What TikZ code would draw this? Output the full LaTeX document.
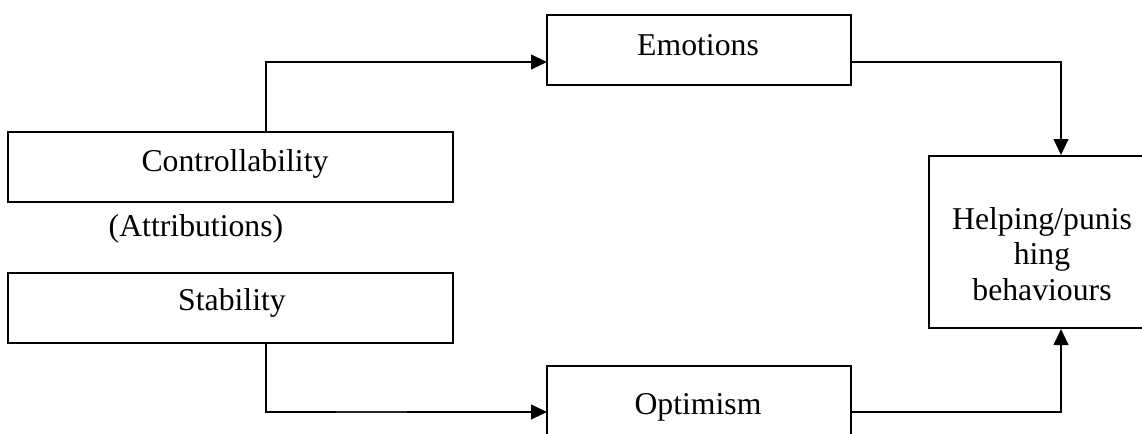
\documentclass[tikz,border=0pt]{standalone}
\usepackage{fontspec}
\setmainfont{Liberation Serif}
\usetikzlibrary{arrows.meta}
\begin{document}
\begin{tikzpicture}[x=0.75pt,y=-0.75pt,
  box/.style={draw, line width=1.5pt, inner sep=0pt, minimum width=#1},
  lbl/.style={anchor=base, inner sep=0pt, font=\fontsize{23.8}{26.6}\selectfont},
  conn/.style={line width=1.5pt},
  arr/.style={conn, -{Triangle[length=12pt,width=11pt]}}]
\useasboundingbox (0,0) rectangle (1142,433);
\clip (0,0) rectangle (1142,433);
% boxes
\node[box=304*0.75pt, minimum height=52.5pt] (emo) at (699,50) {};
\node[box=445*0.75pt, minimum height=52.5pt] (ctrl) at (230.5,167) {};
\node[box=445*0.75pt, minimum height=52.5pt] (stab) at (230.5,307.5) {};
\node[box=304*0.75pt, minimum height=52.5pt] (opt) at (699,401) {};
\node[box=226*0.75pt, minimum height=129pt] (help) at (1042,242) {};
% texts
\node[lbl] (emoT) at (698,55) {Emotions};
\node[lbl] (ctrlT) at (235,171.7) {Controllability};
\node[lbl] (attrT) at (196,236.7) {(Attributions)};
\node[lbl] (stabT) at (232,310.7) {Stability};
\node[lbl] (optT) at (698,414) {Optimism};
\node[lbl, align=center, anchor=base] (helpT) at (1042,300) {Helping/punis\\hing\\behaviours};
% coordinates
\coordinate (lx) at (266,0);
\coordinate (rx) at (1061,0);
\coordinate (ein) at (547,62);
\coordinate (eout) at (851,62);
\coordinate (oin) at (547,412);
\coordinate (oout) at (851,412);
\coordinate (segA) at (336,412);
\coordinate (segB) at (407,412);
% connectors
\draw[arr] (lx |- ctrl.north) |- (ein);
\draw[arr] (eout) -| (rx |- help.north);
\draw[arr] (lx |- stab.south) |- (oin);
\draw[arr] (oout) -| (rx |- help.south);
\draw[line width=1.8pt, black!85] (segA) -- (segB);
\end{tikzpicture}
\end{document}
